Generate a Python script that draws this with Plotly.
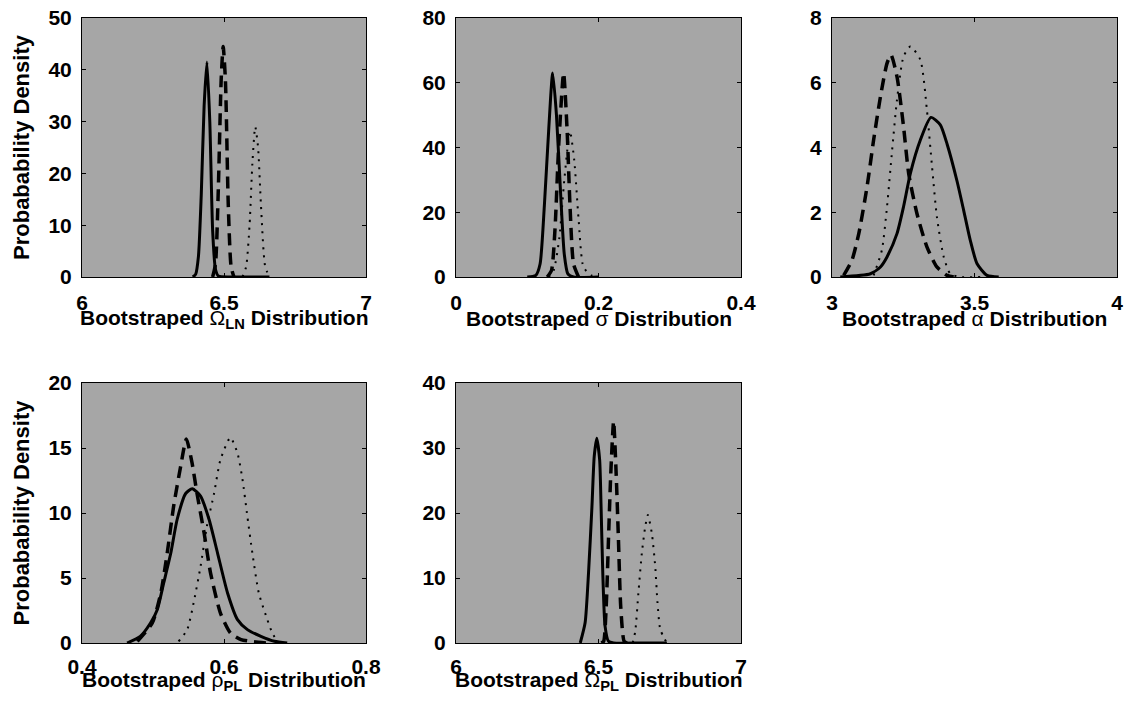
import plotly.graph_objects as go

# ---------------- data ----------------
# Panel 1: Bootstraped Omega_LN
p1_solid_x = [6.39, 6.40, 6.41, 6.42, 6.43, 6.44, 6.45, 6.46, 6.47, 6.48, 6.52, 6.60, 6.66]
p1_solid_y = [0, 0.5, 4, 16, 33, 41.5, 30, 9, 1.5, 0.2, 0, 0, 0]
p1_dash_x = [6.46, 6.47, 6.48, 6.49, 6.497, 6.505, 6.515, 6.525, 6.535]
p1_dash_y = [0, 2.5, 17, 38, 44.5, 38, 14, 2, 0]
p1_dot_x = [6.565, 6.578, 6.59, 6.60, 6.61, 6.62, 6.63, 6.645, 6.66]
p1_dot_y = [0, 2, 10, 22, 29, 25, 14, 2, 0]

# Panel 2: Bootstraped sigma
p2_solid_x = [0.10, 0.112, 0.118, 0.124, 0.130, 0.1357, 0.141, 0.147, 0.152, 0.157, 0.165, 0.20]
p2_solid_y = [0, 0.5, 4, 22, 45, 63, 50, 25, 7, 1, 0, 0]
p2_dash_x = [0.128, 0.134, 0.139, 0.144, 0.151, 0.156, 0.160, 0.165, 0.172]
p2_dash_y = [0, 2, 15, 40, 63, 45, 22, 4, 0]
p2_dot_x = [0.130, 0.137, 0.145, 0.152, 0.160, 0.166, 0.172, 0.179, 0.19, 0.20]
p2_dot_y = [0, 2, 12, 30, 45, 36, 18, 3, 0.5, 0]

# Panel 3: Bootstraped alpha
p3_solid_x = [3.029, 3.135, 3.170, 3.193, 3.228, 3.251, 3.275, 3.310, 3.347, 3.380, 3.404,
              3.439, 3.462, 3.485, 3.509, 3.544, 3.585]
p3_solid_y = [0, 0.10, 0.31, 0.62, 1.34, 2.17, 3.2, 4.23, 4.93, 4.70, 4.10,
              2.95, 2.06, 1.14, 0.41, 0.05, 0]
p3_dash_x = [3.041, 3.07, 3.094, 3.123, 3.146, 3.170, 3.193, 3.207, 3.228, 3.251, 3.269,
             3.298, 3.333, 3.368, 3.404, 3.427]
p3_dash_y = [0.05, 0.52, 1.34, 2.79, 4.23, 5.57, 6.6, 6.86, 6.19, 4.65, 3.2,
             1.96, 0.93, 0.31, 0.05, 0]
p3_dot_x = [3.146, 3.175, 3.193, 3.211, 3.228, 3.251, 3.275, 3.310, 3.333, 3.351, 3.368,
            3.392, 3.415, 3.45, 3.52]
p3_dot_y = [0.05, 0.83, 2.17, 3.92, 5.47, 6.81, 7.12, 6.71, 5.16, 3.41, 1.86,
            0.62, 0.10, 0, 0]

# Panel 4: Bootstraped rho_PL
p4_solid_x = [0.4635, 0.482, 0.4965, 0.506, 0.515, 0.525, 0.534, 0.546, 0.5553, 0.567, 0.579,
              0.591, 0.605, 0.619, 0.633, 0.652, 0.671, 0.689]
p4_solid_y = [0, 0.51, 1.54, 2.56, 4.6, 6.9, 9.5, 11.5, 11.87, 11.3, 9.5,
              6.9, 3.85, 1.8, 1.03, 0.51, 0.13, 0]
p4_dash_x = [0.478, 0.499, 0.511, 0.520, 0.529, 0.539, 0.547, 0.555, 0.562, 0.572, 0.581,
             0.595, 0.609, 0.624, 0.642, 0.66]
p4_dash_y = [0.13, 1.54, 3.85, 6.9, 10.5, 13.6, 15.7, 13.85, 11.5, 8.46, 5.4,
             2.3, 0.77, 0.26, 0.1, 0]
p4_dot_x = [0.536, 0.548, 0.558, 0.567, 0.576, 0.586, 0.595, 0.609, 0.619, 0.626, 0.633,
            0.640, 0.649, 0.661, 0.668, 0.675]
p4_dot_y = [0.13, 1.0, 3.3, 5.9, 9.0, 11.5, 14.1, 15.8, 14.6, 12.6, 9.7,
            6.9, 3.85, 1.8, 0.77, 0.13]

# Panel 5: Bootstraped Omega_PL
p5_solid_x = [6.436, 6.453, 6.465, 6.477, 6.485, 6.494, 6.504, 6.509, 6.515, 6.523, 6.535,
              6.553, 6.65, 6.74]
p5_solid_y = [0, 3.1, 10.8, 21, 28.7, 31.5, 28.2, 21, 10.8, 2.6, 0.26, 0, 0, 0]
p5_dash_x = [6.51, 6.518, 6.527, 6.535, 6.543, 6.553, 6.562, 6.570, 6.578, 6.59, 6.60]
p5_dash_y = [0, 0.26, 5.6, 15.9, 26, 34.1, 26, 15.9, 5.6, 0.26, 0]
p5_dot_x = [6.62, 6.629, 6.64, 6.652, 6.664, 6.673, 6.687, 6.699, 6.707, 6.717, 6.74]
p5_dot_y = [0, 1.8, 7.7, 13.8, 17.9, 19.7, 16.9, 11.8, 6.2, 2.05, 0]

x_titles = ["Bootstraped <span style='font-weight:normal'>Ω</span><sub>LN</sub> Distribution",
            "Bootstraped <span style='font-weight:normal'>σ</span> Distribution",
            "Bootstraped <span style='font-weight:normal'>α</span> Distribution",
            "Bootstraped <span style='font-weight:normal'>ρ</span><sub>PL</sub> Distribution",
            "Bootstraped <span style='font-weight:normal'>Ω</span><sub>PL</sub> Distribution"]
y_title = "Probabability Density"
x_ranges = [[6, 7], [0, 0.4], [3, 4], [0.4, 0.8], [6, 7]]
y_ranges = [[0, 50], [0, 80], [0, 8], [0, 20], [0, 40]]
x_ticks = [[6, 6.5, 7], [0, 0.2, 0.4], [3, 3.5, 4], [0.4, 0.6, 0.8], [6, 6.5, 7]]
x_ticktext = [["6", "6.5", "7"], ["0", "0.2", "0.4"], ["3", "3.5", "4"],
              ["0.4", "0.6", "0.8"], ["6", "6.5", "7"]]
y_ticks = [[0, 10, 20, 30, 40, 50], [0, 20, 40, 60, 80], [0, 2, 4, 6, 8],
           [0, 5, 10, 15, 20], [0, 10, 20, 30, 40]]

panels = [
    (p1_solid_x, p1_solid_y, p1_dash_x, p1_dash_y, p1_dot_x, p1_dot_y),
    (p2_solid_x, p2_solid_y, p2_dash_x, p2_dash_y, p2_dot_x, p2_dot_y),
    (p3_solid_x, p3_solid_y, p3_dash_x, p3_dash_y, p3_dot_x, p3_dot_y),
    (p4_solid_x, p4_solid_y, p4_dash_x, p4_dash_y, p4_dot_x, p4_dot_y),
    (p5_solid_x, p5_solid_y, p5_dash_x, p5_dash_y, p5_dot_x, p5_dot_y),
]

# ---------------- layout geometry ----------------
W, H = 1125, 707
col_px = [(82, 366), (456, 741), (832, 1117)]
row_px = [(18, 277), (383, 643)]
row_tick_standoff = [7, 5]
row_title_gap = [42, 38]
pos = [(0, 0), (0, 1), (0, 2), (1, 0), (1, 1)]

FONT = "Liberation Sans, Arial, Helvetica, sans-serif"
GRAY = "#a6a6a6"

fig = go.Figure()
annotations = []
for i, (sx, sy, dx, dy, ox, oy) in enumerate(panels):
    suf = "" if i == 0 else str(i + 1)
    xa, ya = "x" + suf, "y" + suf
    fig.add_trace(go.Scatter(x=ox, y=oy, mode="lines", xaxis=xa, yaxis=ya,
                             line=dict(color="black", width=2, dash="2px,6px", shape="spline", smoothing=0.6),
                             showlegend=False, hoverinfo="skip"))
    fig.add_trace(go.Scatter(x=dx, y=dy, mode="lines", xaxis=xa, yaxis=ya,
                             line=dict(color="black", width=3.5, dash="12px,7px", shape="spline", smoothing=0.6),
                             showlegend=False, hoverinfo="skip"))
    fig.add_trace(go.Scatter(x=sx, y=sy, mode="lines", xaxis=xa, yaxis=ya,
                             line=dict(color="black", width=3, shape="spline", smoothing=0.6),
                             showlegend=False, hoverinfo="skip"))
    r, c = pos[i]
    x0, x1 = col_px[c]
    t, b = row_px[r]
    common = dict(showgrid=False, zeroline=False, showline=True, linecolor="black",
                  linewidth=1, mirror="ticks", ticks="inside", ticklen=4,
                  tickcolor="black", tickwidth=1, automargin=False,
                  tickfont=dict(family=FONT, size=21, color="black", weight="bold"))
    fig.layout["xaxis" + suf] = dict(
        domain=[x0 / W, x1 / W], anchor=ya, range=x_ranges[i],
        tickvals=x_ticks[i], ticktext=x_ticktext[i], ticklabelstandoff=row_tick_standoff[r],
        **common)
    ydict = dict(domain=[1 - b / H, 1 - t / H], anchor=xa, range=y_ranges[i],
                 tickvals=y_ticks[i], ticklabelstandoff=5, **common)
    if c == 0:
        ydict["title"] = dict(text=y_title, standoff=12,
                              font=dict(family=FONT, size=22, color="black", weight="bold"))
    fig.layout["yaxis" + suf] = ydict
    fig.add_shape(type="rect", xref=xa + " domain", yref=ya + " domain",
                  x0=0, x1=1, y0=0, y1=1, fillcolor=GRAY, line=dict(width=0),
                  layer="below")
    annotations.append(dict(text=x_titles[i], xref="paper", yref="paper",
                            x=(x0 + x1) / 2 / W, y=1 - (b + row_title_gap[r]) / H,
                            xanchor="center", yanchor="middle", showarrow=False,
                            font=dict(family=FONT, size=21, color="black", weight="bold")))

fig.update_layout(width=W, height=H, margin=dict(l=0, r=0, t=0, b=0),
                  paper_bgcolor="white", plot_bgcolor="white",
                  font=dict(family=FONT, color="black"),
                  annotations=annotations)

fig.write_html("out.html", config={"displayModeBar": False},
               post_script="document.body.style.margin='0';document.body.style.padding='0';")
